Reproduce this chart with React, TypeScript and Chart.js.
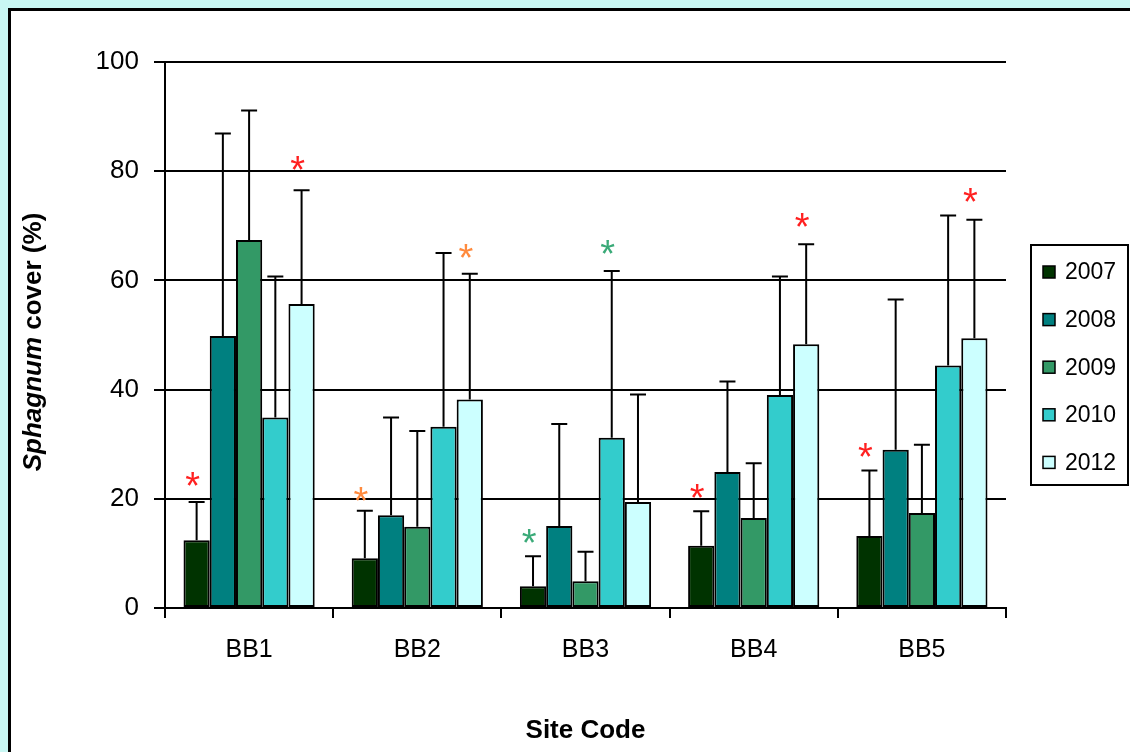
import React, { useEffect, useRef } from 'react';
import { Chart, registerables } from 'chart.js';

Chart.register(...registerables);

const FONT = '"Liberation Sans", Arial, Helvetica, sans-serif';

const categories = ['BB1', 'BB2', 'BB3', 'BB4', 'BB5'];
const seriesLabels = ['2007', '2008', '2009', '2010', '2012'];
const seriesColors = ['#003300', '#008080', '#339966', '#33cccc', '#ccffff'];

const values2007 = [12.4, 9.1, 4.0, 11.4, 13.2];
const values2008 = [49.8, 17.0, 15.0, 24.9, 29.0];
const values2009 = [67.4, 14.9, 4.9, 16.5, 17.4];
const values2010 = [34.9, 33.2, 31.2, 39.0, 44.4];
const values2012 = [55.7, 38.2, 19.4, 48.3, 49.4];

// upper end of each error bar (mean + SD)
const errTop2007 = [19.4, 17.8, 9.5, 17.7, 25.2];
const errTop2008 = [86.9, 34.9, 33.7, 41.5, 56.5];
const errTop2009 = [91.1, 32.4, 10.3, 26.5, 29.9];
const errTop2010 = [60.7, 65.0, 61.7, 60.7, 71.9];
const errTop2012 = [76.5, 61.2, 39.1, 66.6, 71.1];

const yTickValues = [0, 20, 40, 60, 80, 100];

// significance asterisks
const starCategory = [0, 0, 1, 1, 2, 2, 3, 3, 4, 4];
const starSeries = [0, 4, 0, 4, 0, 3, 0, 4, 0, 4];
const starValue = [23.4, 81.3, 20.7, 65.2, 13.0, 66.0, 21.2, 70.9, 28.8, 75.5];
const starColor = ['#ff2020', '#ff2020', '#ff8a3d', '#ff8a3d', '#3aaa78', '#3aaa78', '#ff2020', '#ff2020', '#ff2020', '#ff2020'];

const seriesValues = [values2007, values2008, values2009, values2010, values2012];
const seriesErrTop = [errTop2007, errTop2008, errTop2009, errTop2010, errTop2012];

const BG = '#c8f7f3';

const bgPlugin = {
  id: 'bgPanel',
  beforeDraw(chart: any) {
    const { ctx, width, height } = chart;
    ctx.save();
    ctx.fillStyle = BG;
    ctx.fillRect(0, 0, width, height);
    ctx.fillStyle = '#ffffff';
    ctx.fillRect(9.5, 9.5, width + 20, height + 20);
    ctx.lineWidth = 3;
    ctx.strokeStyle = '#000000';
    ctx.strokeRect(9.5, 9.5, width + 20, height + 20);
    ctx.restore();
  },
};

const errorPlugin = {
  id: 'errorBars',
  afterDatasetsDraw(chart: any) {
    const { ctx } = chart;
    const y = chart.scales.y;
    ctx.save();
    ctx.strokeStyle = '#000000';
    ctx.lineWidth = 2;
    seriesErrTop.forEach((tops, i) => {
      const meta = chart.getDatasetMeta(i);
      meta.data.forEach((bar: any, j: number) => {
        const yt = y.getPixelForValue(tops[j]);
        ctx.beginPath();
        ctx.moveTo(bar.x, bar.y);
        ctx.lineTo(bar.x, yt);
        ctx.moveTo(bar.x - 8, yt);
        ctx.lineTo(bar.x + 8, yt);
        ctx.stroke();
      });
    });
    ctx.restore();
  },
};

const overlayPlugin = {
  id: 'overlay',
  afterDraw(chart: any) {
    const { ctx } = chart;
    const y = chart.scales.y;
    ctx.save();
    // asterisks
    ctx.font = `38px ${FONT}`;
    ctx.textAlign = 'center';
    ctx.textBaseline = 'alphabetic';
    starCategory.forEach((c, k) => {
      const bar = chart.getDatasetMeta(starSeries[k]).data[c];
      const cy = y.getPixelForValue(starValue[k]);
      ctx.fillStyle = starColor[k];
      ctx.fillText('*', bar.x - 4, cy + 19);
    });

    // y axis title with italic genus name
    ctx.save();
    ctx.translate(41, 342);
    ctx.rotate(-Math.PI / 2);
    ctx.fillStyle = '#000000';
    ctx.textAlign = 'left';
    ctx.textBaseline = 'alphabetic';
    const f1 = `italic bold 26px ${FONT}`;
    const f2 = `bold 26px ${FONT}`;
    ctx.font = f1;
    const w1 = ctx.measureText('Sphagnum').width;
    ctx.font = f2;
    const w2 = ctx.measureText(' cover (%)').width;
    const x0 = -(w1 + w2) / 2;
    ctx.font = f1;
    ctx.fillText('Sphagnum', x0, 0);
    ctx.font = f2;
    ctx.fillText(' cover (%)', x0 + w1, 0);
    ctx.restore();

    // legend
    ctx.lineWidth = 2;
    ctx.strokeStyle = '#000000';
    ctx.fillStyle = '#ffffff';
    ctx.fillRect(1031, 245, 97, 240);
    ctx.strokeRect(1031, 245, 97, 240);
    ctx.font = `23px ${FONT}`;
    ctx.textAlign = 'left';
    ctx.textBaseline = 'middle';
    seriesLabels.forEach((lab, i) => {
      const cy = 272 + i * 47.6;
      ctx.fillStyle = seriesColors[i];
      ctx.fillRect(1043, cy - 6, 12, 12);
      ctx.lineWidth = 1.5;
      ctx.strokeRect(1043, cy - 6, 12, 12);
      ctx.fillStyle = '#000000';
      ctx.fillText(lab, 1065, cy + 1);
    });
    ctx.restore();
  },
};

export default function App() {
  const ref = useRef<HTMLCanvasElement | null>(null);
  useEffect(() => {
    if (!ref.current) return;
    const chart = new Chart(ref.current, {
      type: 'bar',
      data: {
        labels: categories,
        datasets: seriesLabels.map((lab, i) => ({
          label: lab,
          data: seriesValues[i],
          backgroundColor: seriesColors[i],
          borderColor: '#000000',
          borderWidth: 2,
          borderSkipped: false,
          categoryPercentage: 0.78,
          barPercentage: 1.0,
        })),
      },
      options: {
        animation: false,
        responsive: false,
        devicePixelRatio: 1,
        layout: { padding: { left: 0, right: 124, top: 62, bottom: 0 } },
        plugins: {
          legend: { display: false },
          tooltip: { enabled: false },
        },
        scales: {
          x: {
            grid: {
              display: true,
              drawOnChartArea: false,
              drawTicks: true,
              tickLength: 10,
              color: '#000000',
              lineWidth: 2,
              offset: true,
            },
            border: { display: true, color: '#000000', width: 2 },
            ticks: { color: '#000000', font: { family: FONT, size: 25 }, padding: 17 },
            title: {
              display: true,
              text: 'Site Code',
              color: '#000000',
              font: { family: FONT, size: 26, weight: 'bold' },
              padding: { top: 0, bottom: 6 },
            },
            afterFit(scale: any) {
              scale.height = 144;
            },
          },
          y: {
            min: 0,
            max: 100,
            afterBuildTicks(scale: any) {
              scale.ticks = yTickValues.map((v) => ({ value: v }));
            },
            grid: {
              color: '#000000',
              lineWidth: 2,
              drawTicks: true,
              tickLength: 11,
            },
            border: { display: true, color: '#000000', width: 2 },
            ticks: { color: '#000000', font: { family: FONT, size: 26 }, padding: 15 },
            afterFit(scale: any) {
              scale.width = 165;
            },
          },
        },
      },
      plugins: [bgPlugin, errorPlugin, overlayPlugin],
    } as any);
    return () => chart.destroy();
  }, []);
  return (
    <div style={{ position: 'absolute', left: 0, top: 0, width: 1130, height: 752 }}>
      <canvas ref={ref} width={1130} height={752} style={{ display: 'block' }} />
    </div>
  );
}
